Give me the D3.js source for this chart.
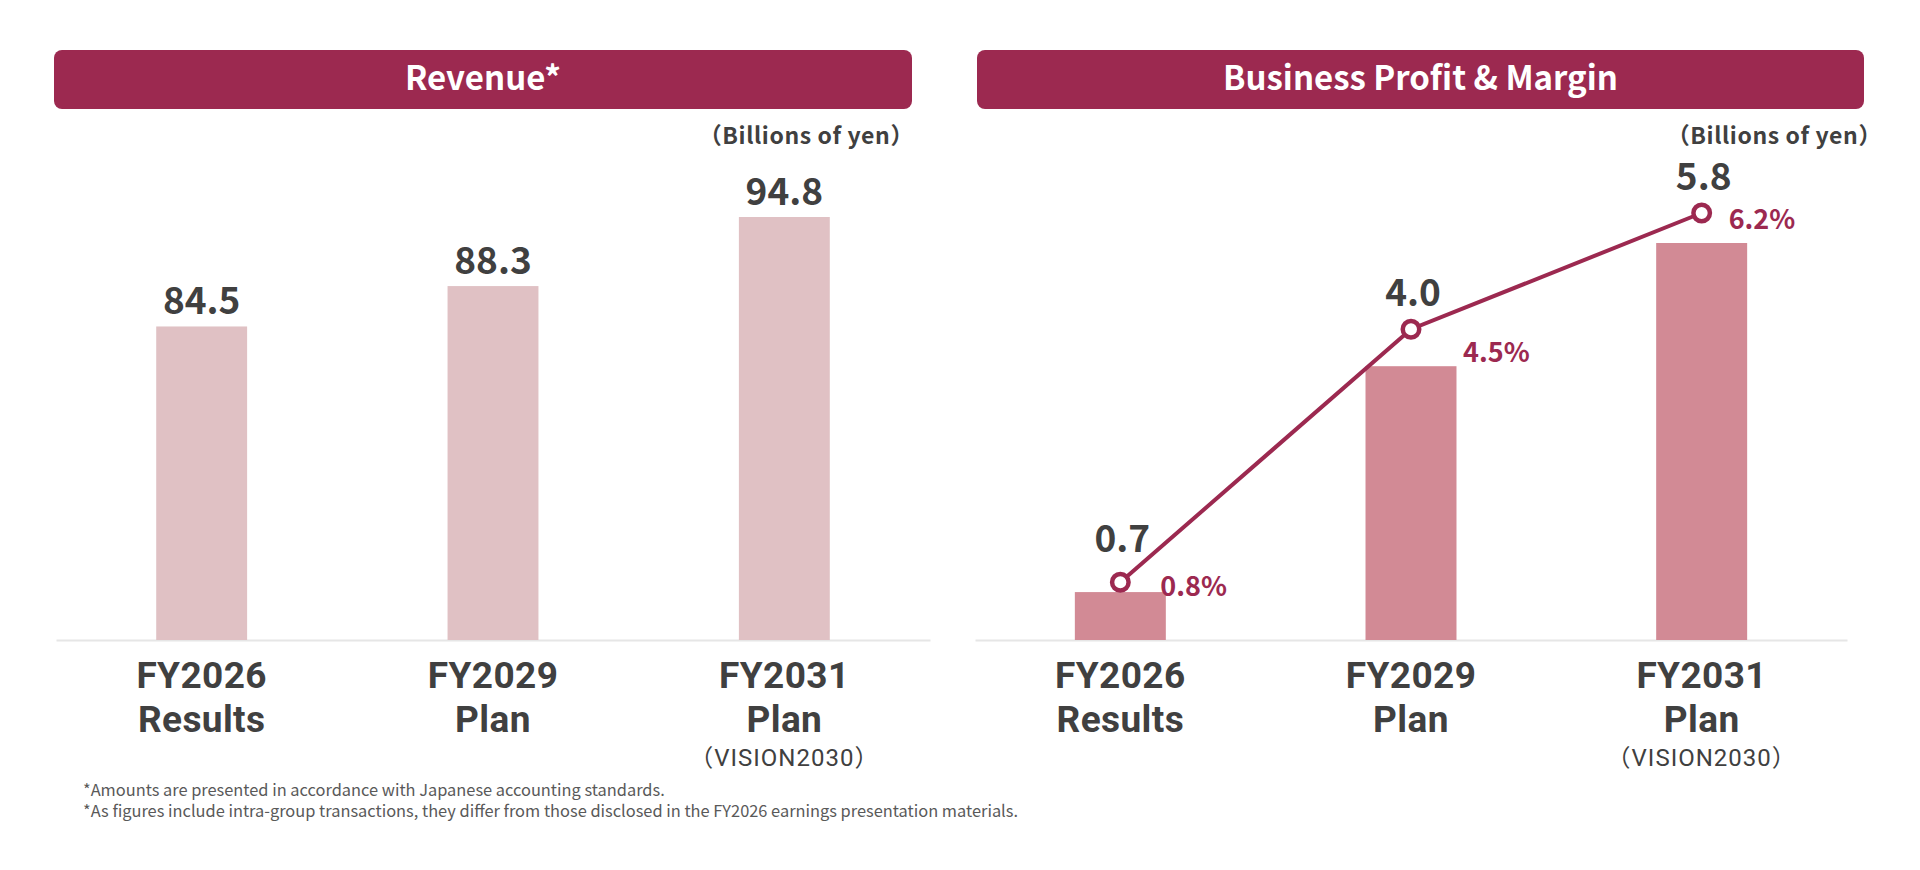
<!DOCTYPE html>
<html lang="en">
<head>
  <meta charset="UTF-8">
  <title>Revenue and Business Profit</title>
  <script src="https://d3js.org/d3.v7.min.js"></script>
  <style>
    body { margin: 0; background: #fff; }
    svg { display: block; }
    svg text { font-family: "Noto Sans CJK JP", "Noto Sans", sans-serif; }
    .head { fill: #9c2950; }
    .head-text { fill: #fff; font-size: 33px; font-weight: 700; text-anchor: middle; }
    .unit { fill: #404040; font-size: 23px; font-weight: 700; text-anchor: end; letter-spacing: 0.6px; }
    .value { fill: #404040; font-size: 37px; font-weight: 700; text-anchor: middle; }
    .pct { fill: #9c2950; font-size: 27px; font-weight: 700; }
    svg text.cat { fill: #404040; font-family: Roboto, "Noto Sans CJK JP", sans-serif; font-size: 37px; font-weight: 700; text-anchor: middle; letter-spacing: 0.4px; }
    .cat .note { font-size: 24px; font-weight: 400; letter-spacing: 1px; }
    .axis path { stroke: #e6e6e6; stroke-width: 2; }
    .foot { fill: #595959; font-size: 16.4px; }
  </style>
</head>
<body>
  <svg width="1920" height="870"></svg>
  <script>
    const svg = d3.select("svg");

    // data
    const categories = ["FY2026", "FY2029", "FY2031"];
    const subLabels = ["Results", "Plan", "Plan"];
    const notes = ["", "", "（VISION2030）"];
    const revenue = [84.5, 88.3, 94.8];
    const profit = [0.7, 4.0, 5.8];
    const margin = [0.8, 4.5, 6.2];
    const footnotes = [
      "*Amounts are presented in accordance with Japanese accounting standards.",
      "*As figures include intra-group transactions, they differ from those disclosed in the FY2026 earnings presentation materials."
    ];

    // layout
    const baseY = 640;
    const panels = [
      { title: "Revenue*", hx0: 54, hx1: 912, ax0: 56, ax1: 930, unitX: 914 },
      { title: "Business Profit & Margin", hx0: 977, hx1: 1864, ax0: 975, ax1: 1847, unitX: 1882 }
    ];
    const pctNudge = [[40, 14], [52, 33], [27, 16]];

    function drawPanel(p) {
      svg.append("rect")
        .attr("class", "head")
        .attr("x", p.hx0).attr("y", 50)
        .attr("width", p.hx1 - p.hx0).attr("height", 59)
        .attr("rx", 8);
      svg.append("text")
        .attr("class", "head-text")
        .attr("x", (p.hx0 + p.hx1) / 2).attr("y", 90)
        .text(p.title);
      svg.append("text")
        .attr("class", "unit")
        .attr("x", p.unitX).attr("y", 144)
        .text("（Billions of yen）");

      const x = d3.scaleBand().domain(categories).range([p.ax0, p.ax1]).padding(0);
      const g = svg.append("g")
        .attr("class", "axis")
        .attr("transform", `translate(0,${baseY})`)
        .call(d3.axisBottom(x).tickSize(0).tickSizeOuter(0));
      g.attr("font-family", null).attr("font-size", null);
      g.selectAll(".tick text").remove();
      const t = g.selectAll(".tick").append("text").attr("class", "cat");
      t.append("tspan").attr("x", 0).attr("y", 48).text(d => d);
      t.append("tspan").attr("x", 0).attr("y", 92).text((d, i) => subLabels[i]);
      t.append("tspan").attr("class", "note").attr("x", 0).attr("y", 126).text((d, i) => notes[i]);
      return x;
    }

    // Revenue
    const xRev = drawPanel(panels[0]);
    const yRev = d3.scaleLinear().domain([55, 94.8]).range([baseY, 217]);
    const bwRev = xRev.bandwidth() * 0.312;

    svg.append("g").selectAll("rect")
      .data(revenue)
      .join("rect")
      .attr("x", (d, i) => xRev(categories[i]) + (xRev.bandwidth() - bwRev) / 2)
      .attr("y", d => yRev(d))
      .attr("width", bwRev)
      .attr("height", d => baseY - yRev(d))
      .attr("fill", "#e0c1c4");

    svg.append("g").selectAll("text")
      .data(revenue)
      .join("text")
      .attr("class", "value")
      .attr("x", (d, i) => xRev(categories[i]) + xRev.bandwidth() / 2)
      .attr("y", d => yRev(d) - 12)
      .text(d => d.toFixed(1));

    // Business profit & margin
    const xPro = drawPanel(panels[1]);
    const yPro = d3.scaleLinear().domain([0, 5.8]).range([baseY, 243]);
    const yMar = d3.scaleLinear().domain([0, 6.2]).range([baseY - 3, 213]);
    const bwPro = xPro.bandwidth() * 0.313;
    const cx = i => xPro(categories[i]) + xPro.bandwidth() / 2;

    svg.append("g").selectAll("rect")
      .data(profit)
      .join("rect")
      .attr("x", (d, i) => cx(i) - bwPro / 2)
      .attr("y", d => yPro(d))
      .attr("width", bwPro)
      .attr("height", d => baseY - yPro(d))
      .attr("fill", "#d28a95");

    const line = d3.line()
      .x((d, i) => cx(i))
      .y(d => yMar(d));

    svg.append("path")
      .datum(margin)
      .attr("d", line)
      .attr("fill", "none")
      .attr("stroke", "#9c2950")
      .attr("stroke-width", 4);

    svg.append("g").selectAll("circle")
      .data(margin)
      .join("circle")
      .attr("cx", (d, i) => cx(i))
      .attr("cy", d => yMar(d))
      .attr("r", 8.25)
      .attr("fill", "#fff")
      .attr("stroke", "#9c2950")
      .attr("stroke-width", 4.5);

    svg.append("g").selectAll("text")
      .data(profit)
      .join("text")
      .attr("class", "value")
      .attr("x", (d, i) => cx(i) + 2)
      .attr("y", (d, i) => yMar(margin[i]) - (i === 0 ? 30 : 23))
      .text(d => d.toFixed(1));

    svg.append("g").selectAll("text")
      .data(margin)
      .join("text")
      .attr("class", "pct")
      .attr("x", (d, i) => cx(i) + pctNudge[i][0])
      .attr("y", (d, i) => yMar(d) + pctNudge[i][1])
      .text(d => d.toFixed(1) + "%");

    // footnotes
    svg.append("g").selectAll("text")
      .data(footnotes)
      .join("text")
      .attr("class", "foot")
      .attr("x", 83)
      .attr("y", (d, i) => 796 + i * 21)
      .text(d => d);
  </script>
</body>
</html>
